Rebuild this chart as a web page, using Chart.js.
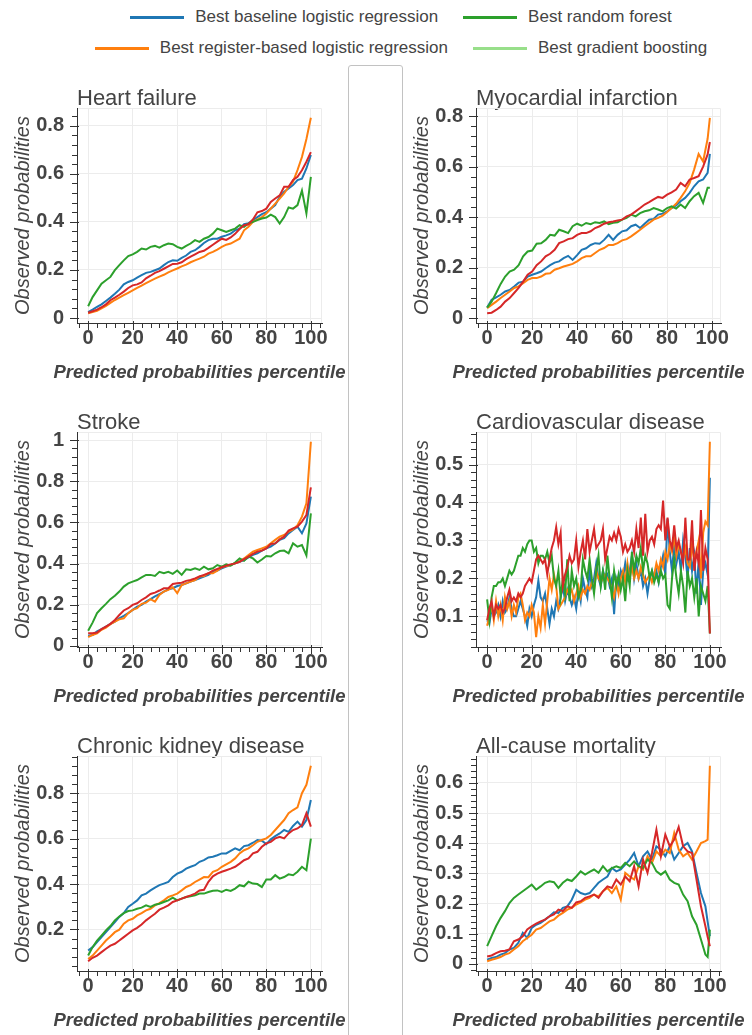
<!DOCTYPE html>
<html>
<head>
<meta charset="utf-8">
<title>Calibration curves</title>
<script src="https://cdn.jsdelivr.net/npm/chart.js@4.4.1/dist/chart.umd.min.js"></script>
<style>
  html, body { margin: 0; padding: 0; background: #fff; }
  body { width: 752px; height: 1035px; overflow: hidden; position: relative;
         font-family: "Liberation Sans", Arial, Helvetica, sans-serif; }
  #divider { position: absolute; left: 348px; top: 65px; width: 55px; height: 1000px;
             box-sizing: border-box; border: 1px solid #c2c2c2; border-radius: 3px; }
  .panel { position: absolute; }
  .lg-row { position: absolute; left: -49px; width: 900px; height: 22px; display: flex;
            justify-content: center; align-items: center; gap: 25px; font-size: 17px; color: #444; }
  .lg-item { display: flex; align-items: center; white-space: nowrap; }
  .lg-item i { display: inline-block; width: 54px; height: 3px; margin-right: 11px; }
</style>
</head>
<body>
<div id="divider"></div>
<div id="legend"></div>
<script>
// ---- series names and colours ----
const SERIES = [
  'Best baseline logistic regression',
  'Best register-based logistic regression',
  'Best random forest',
  'Best gradient boosting'
];
const LINE_COLORS = ['#1f77b4', '#ff7f0e', '#2ca02c', '#d62728'];
const LEGEND_COLORS = ['#1f77b4', '#ff7f0e', '#2ca02c', '#98df8a'];
const LEGEND_ROWS = [[0, 2], [1, 3]];
const DRAW_ORDER = [3, 2, 1, 0];   // gradient boosting drawn on top

// ---- percentiles (x values) ----
const PCT_EVEN = [0,2,4,6,8,10,12,14,16,18,20,22,24,26,28,30,32,34,36,38,40,42,44,46,48,50,52,54,56,58,60,62,64,66,68,70,72,74,76,78,80,82,84,86,88,90,92,94,96,98,100];
const PCT_MI = [0,2,4,6,8,10,12,14,16,18,20,22,24,26,28,30,32,34,36,38,40,42,44,46,48,50,52,54,56,58,60,62,64,66,68,70,72,74,76,78,80,82,84,86,88,90,92,94,96,98,99];
const PCT_ALL = [0,1,2,3,4,5,6,7,8,9,10,11,12,13,14,15,16,17,18,19,20,21,22,23,24,25,26,27,28,29,30,31,32,33,34,35,36,37,38,39,40,41,42,43,44,45,46,47,48,49,50,51,52,53,54,55,56,57,58,59,60,61,62,63,64,65,66,67,68,69,70,71,72,73,74,75,76,77,78,79,80,81,82,83,84,85,86,87,88,89,90,91,92,93,94,95,96,97,98,99,100];
const PCT_MORT = [0,2,4,6,8,10,12,14,16,18,20,22,24,26,28,30,32,34,36,38,40,42,44,46,48,50,52,54,56,58,60,62,64,66,68,70,72,74,76,78,80,82,84,86,88,90,92,94,96,98,99,100];

// ---- tick labels ----
const X_TICKS = [0, 20, 40, 60, 80, 100];
const Y_TICKS_HF = [0, 0.2, 0.4, 0.6, 0.8];
const Y_TICKS_MI = [0, 0.2, 0.4, 0.6, 0.8];
const Y_TICKS_STROKE = [0, 0.2, 0.4, 0.6, 0.8, 1];
const Y_TICKS_CVD = [0.1, 0.2, 0.3, 0.4, 0.5];
const Y_TICKS_CKD = [0.2, 0.4, 0.6, 0.8];
const Y_TICKS_MORT = [0, 0.1, 0.2, 0.3, 0.4, 0.5, 0.6];

// ---- Heart failure ----
const HF_BASELINE = [0.025,0.035,0.046,0.057,0.071,0.085,0.101,0.118,0.14,0.15,0.157,0.168,0.178,0.188,0.192,0.199,0.206,0.22,0.233,0.24,0.238,0.25,0.26,0.275,0.282,0.296,0.312,0.324,0.33,0.33,0.338,0.344,0.351,0.365,0.372,0.39,0.394,0.407,0.42,0.432,0.44,0.455,0.47,0.504,0.525,0.539,0.553,0.574,0.58,0.622,0.678];
const HF_REGISTER = [0.02,0.025,0.03,0.04,0.05,0.063,0.075,0.085,0.095,0.105,0.115,0.125,0.135,0.145,0.155,0.164,0.172,0.18,0.19,0.198,0.206,0.215,0.222,0.232,0.24,0.247,0.255,0.268,0.275,0.285,0.296,0.305,0.31,0.32,0.33,0.365,0.38,0.4,0.41,0.42,0.435,0.455,0.476,0.497,0.518,0.546,0.567,0.615,0.67,0.745,0.833];
const HF_RF = [0.049,0.087,0.115,0.143,0.157,0.171,0.199,0.22,0.24,0.258,0.265,0.275,0.289,0.285,0.296,0.3,0.293,0.303,0.31,0.307,0.296,0.289,0.3,0.31,0.324,0.317,0.33,0.337,0.351,0.372,0.365,0.358,0.365,0.372,0.386,0.379,0.393,0.4,0.407,0.414,0.418,0.43,0.42,0.393,0.42,0.46,0.455,0.47,0.53,0.435,0.587];
const HF_GB = [0.022,0.028,0.035,0.045,0.057,0.074,0.085,0.097,0.11,0.125,0.136,0.14,0.148,0.165,0.176,0.188,0.195,0.205,0.215,0.225,0.226,0.232,0.245,0.255,0.265,0.275,0.28,0.292,0.305,0.318,0.33,0.325,0.335,0.35,0.37,0.386,0.39,0.41,0.44,0.445,0.455,0.483,0.497,0.51,0.546,0.546,0.574,0.587,0.615,0.65,0.69];

// ---- Myocardial infarction ----
const MI_BASELINE = [0.043,0.073,0.083,0.093,0.106,0.112,0.126,0.141,0.145,0.165,0.172,0.178,0.185,0.198,0.21,0.22,0.225,0.238,0.247,0.231,0.25,0.271,0.277,0.29,0.297,0.295,0.31,0.33,0.31,0.33,0.344,0.348,0.364,0.37,0.357,0.374,0.39,0.393,0.41,0.414,0.423,0.436,0.446,0.463,0.476,0.496,0.522,0.542,0.549,0.575,0.65];
const MI_REGISTER = [0.04,0.053,0.066,0.08,0.093,0.106,0.12,0.126,0.139,0.152,0.159,0.159,0.165,0.176,0.178,0.192,0.198,0.205,0.21,0.215,0.225,0.238,0.245,0.245,0.258,0.271,0.278,0.29,0.29,0.297,0.308,0.313,0.324,0.337,0.35,0.364,0.377,0.39,0.397,0.406,0.42,0.436,0.453,0.476,0.502,0.535,0.588,0.65,0.62,0.71,0.793];
const MI_RF = [0.042,0.066,0.1,0.136,0.165,0.185,0.192,0.21,0.245,0.264,0.268,0.295,0.297,0.31,0.33,0.327,0.35,0.344,0.337,0.364,0.374,0.366,0.377,0.372,0.38,0.377,0.383,0.372,0.378,0.38,0.39,0.397,0.41,0.403,0.416,0.423,0.427,0.436,0.43,0.423,0.436,0.443,0.434,0.45,0.436,0.463,0.483,0.496,0.456,0.516,0.516];
const MI_GB = [0.02,0.022,0.033,0.046,0.066,0.08,0.1,0.12,0.145,0.172,0.185,0.21,0.225,0.245,0.255,0.271,0.297,0.304,0.313,0.317,0.33,0.337,0.337,0.344,0.357,0.364,0.374,0.38,0.383,0.387,0.39,0.403,0.41,0.423,0.436,0.45,0.459,0.47,0.48,0.476,0.489,0.498,0.509,0.535,0.522,0.549,0.555,0.562,0.6,0.648,0.697];

// ---- Stroke ----
const STROKE_BASELINE = [0.049,0.053,0.07,0.081,0.094,0.107,0.118,0.134,0.146,0.159,0.175,0.191,0.199,0.215,0.227,0.24,0.252,0.264,0.275,0.28,0.291,0.296,0.304,0.312,0.32,0.328,0.337,0.345,0.361,0.366,0.377,0.385,0.393,0.401,0.409,0.417,0.43,0.442,0.45,0.463,0.474,0.482,0.498,0.515,0.523,0.547,0.563,0.579,0.547,0.595,0.725];
const STROKE_REGISTER = [0.042,0.053,0.061,0.078,0.089,0.105,0.118,0.129,0.134,0.159,0.175,0.183,0.204,0.21,0.227,0.215,0.248,0.264,0.272,0.285,0.256,0.296,0.304,0.312,0.32,0.337,0.34,0.353,0.353,0.366,0.382,0.388,0.393,0.401,0.409,0.425,0.442,0.458,0.466,0.474,0.482,0.498,0.515,0.531,0.539,0.555,0.566,0.587,0.628,0.693,0.992];
const STROKE_RF = [0.074,0.113,0.159,0.183,0.204,0.227,0.244,0.264,0.288,0.304,0.312,0.32,0.333,0.345,0.345,0.34,0.36,0.353,0.36,0.35,0.366,0.345,0.372,0.369,0.377,0.369,0.385,0.372,0.377,0.393,0.385,0.396,0.39,0.405,0.425,0.414,0.434,0.425,0.405,0.42,0.437,0.434,0.45,0.461,0.463,0.45,0.498,0.482,0.49,0.44,0.644];
const STROKE_GB = [0.061,0.061,0.065,0.081,0.094,0.107,0.126,0.15,0.172,0.183,0.199,0.207,0.223,0.236,0.252,0.259,0.269,0.28,0.28,0.301,0.304,0.307,0.316,0.32,0.328,0.337,0.345,0.353,0.366,0.374,0.382,0.39,0.396,0.401,0.409,0.422,0.434,0.447,0.458,0.463,0.474,0.495,0.498,0.518,0.531,0.56,0.571,0.579,0.604,0.636,0.77];

// ---- Cardiovascular disease ----
const CVD_BASELINE = [0.09,0.08,0.12,0.1,0.11,0.13,0.1,0.14,0.11,0.12,0.15,0.12,0.1,0.1,0.12,0.14,0.12,0.1,0.075,0.12,0.1,0.13,0.15,0.194,0.15,0.14,0.16,0.12,0.08,0.12,0.1,0.14,0.12,0.15,0.18,0.14,0.17,0.15,0.13,0.15,0.12,0.17,0.14,0.2,0.17,0.15,0.22,0.18,0.2,0.24,0.2,0.18,0.22,0.2,0.21,0.18,0.2,0.106,0.2,0.18,0.22,0.2,0.24,0.2,0.22,0.26,0.2,0.24,0.2,0.22,0.18,0.2,0.16,0.2,0.22,0.2,0.22,0.19,0.23,0.26,0.21,0.357,0.27,0.22,0.29,0.24,0.27,0.22,0.3,0.26,0.2,0.28,0.22,0.26,0.16,0.25,0.13,0.22,0.24,0.21,0.465];
const CVD_REGISTER = [0.075,0.1,0.13,0.09,0.14,0.1,0.13,0.09,0.15,0.12,0.14,0.1,0.13,0.11,0.15,0.16,0.13,0.09,0.11,0.1,0.13,0.11,0.045,0.1,0.07,0.13,0.08,0.14,0.2,0.17,0.21,0.18,0.12,0.13,0.14,0.15,0.17,0.16,0.17,0.14,0.16,0.18,0.15,0.17,0.16,0.18,0.17,0.19,0.17,0.22,0.2,0.19,0.2,0.21,0.2,0.19,0.17,0.15,0.19,0.16,0.2,0.22,0.19,0.24,0.2,0.23,0.2,0.22,0.2,0.23,0.21,0.19,0.2,0.21,0.19,0.21,0.24,0.22,0.25,0.23,0.27,0.25,0.29,0.27,0.31,0.26,0.29,0.27,0.25,0.28,0.24,0.23,0.29,0.25,0.27,0.3,0.2,0.32,0.35,0.34,0.56];
const CVD_RF = [0.145,0.09,0.15,0.18,0.18,0.19,0.19,0.2,0.18,0.2,0.22,0.21,0.22,0.24,0.26,0.26,0.28,0.27,0.29,0.3,0.3,0.27,0.28,0.24,0.26,0.26,0.25,0.27,0.24,0.26,0.2,0.18,0.22,0.15,0.2,0.16,0.25,0.14,0.22,0.18,0.2,0.15,0.17,0.25,0.22,0.2,0.25,0.2,0.16,0.22,0.26,0.18,0.22,0.17,0.26,0.2,0.15,0.22,0.18,0.21,0.17,0.2,0.14,0.22,0.18,0.27,0.22,0.26,0.24,0.28,0.22,0.26,0.24,0.2,0.22,0.19,0.21,0.19,0.22,0.2,0.21,0.13,0.12,0.2,0.25,0.2,0.16,0.22,0.18,0.11,0.22,0.18,0.2,0.15,0.2,0.1,0.18,0.16,0.14,0.18,0.055];
const CVD_GB = [0.09,0.12,0.14,0.1,0.13,0.12,0.13,0.11,0.12,0.15,0.17,0.14,0.15,0.14,0.16,0.15,0.16,0.18,0.19,0.2,0.19,0.22,0.25,0.26,0.25,0.24,0.25,0.21,0.25,0.28,0.3,0.335,0.29,0.32,0.18,0.21,0.23,0.26,0.24,0.25,0.3,0.23,0.27,0.3,0.25,0.33,0.27,0.3,0.33,0.28,0.29,0.3,0.33,0.25,0.28,0.31,0.3,0.32,0.3,0.33,0.31,0.27,0.29,0.27,0.28,0.3,0.27,0.33,0.28,0.36,0.26,0.37,0.27,0.3,0.31,0.29,0.33,0.34,0.33,0.405,0.3,0.36,0.3,0.28,0.34,0.28,0.3,0.27,0.24,0.36,0.25,0.25,0.353,0.22,0.27,0.24,0.38,0.22,0.28,0.25,0.055];

// ---- Chronic kidney disease ----
const CKD_BASELINE = [0.107,0.122,0.144,0.166,0.188,0.21,0.232,0.255,0.272,0.299,0.313,0.328,0.35,0.358,0.372,0.384,0.395,0.402,0.409,0.431,0.446,0.454,0.468,0.476,0.483,0.498,0.505,0.517,0.52,0.527,0.535,0.535,0.546,0.557,0.549,0.567,0.571,0.582,0.594,0.591,0.576,0.597,0.611,0.623,0.638,0.63,0.656,0.675,0.653,0.682,0.77];
const CKD_REGISTER = [0.07,0.085,0.107,0.129,0.151,0.169,0.188,0.199,0.225,0.24,0.247,0.262,0.272,0.284,0.291,0.306,0.316,0.328,0.343,0.35,0.358,0.372,0.387,0.395,0.409,0.42,0.431,0.43,0.454,0.461,0.476,0.487,0.498,0.513,0.535,0.549,0.557,0.571,0.586,0.594,0.601,0.616,0.638,0.66,0.682,0.712,0.726,0.738,0.8,0.837,0.921];
const CKD_RF = [0.085,0.122,0.151,0.173,0.196,0.215,0.24,0.257,0.272,0.281,0.284,0.291,0.296,0.306,0.299,0.309,0.313,0.321,0.328,0.34,0.328,0.336,0.343,0.346,0.35,0.358,0.358,0.365,0.37,0.372,0.365,0.375,0.37,0.38,0.395,0.39,0.41,0.402,0.4,0.387,0.42,0.42,0.439,0.424,0.431,0.443,0.439,0.454,0.476,0.461,0.6];
const CKD_GB = [0.06,0.075,0.085,0.1,0.115,0.129,0.137,0.151,0.166,0.181,0.196,0.207,0.222,0.24,0.255,0.269,0.287,0.296,0.306,0.321,0.328,0.336,0.343,0.35,0.358,0.372,0.375,0.41,0.434,0.446,0.454,0.461,0.468,0.476,0.49,0.505,0.513,0.535,0.542,0.564,0.579,0.586,0.601,0.608,0.601,0.623,0.638,0.645,0.66,0.712,0.653];

// ---- All-cause mortality ----
const MORT_BASELINE = [0.014,0.02,0.023,0.031,0.036,0.048,0.053,0.07,0.103,0.086,0.119,0.13,0.136,0.147,0.158,0.171,0.169,0.186,0.191,0.213,0.246,0.235,0.23,0.235,0.252,0.269,0.28,0.29,0.318,0.307,0.313,0.329,0.346,0.368,0.324,0.357,0.373,0.346,0.39,0.379,0.357,0.39,0.346,0.368,0.39,0.401,0.373,0.302,0.235,0.191,0.14,0.092];
const MORT_REGISTER = [0.009,0.014,0.018,0.023,0.031,0.036,0.048,0.059,0.075,0.086,0.097,0.114,0.119,0.13,0.141,0.147,0.16,0.169,0.18,0.186,0.197,0.204,0.213,0.219,0.23,0.224,0.241,0.252,0.235,0.257,0.213,0.302,0.29,0.28,0.324,0.313,0.357,0.335,0.373,0.357,0.379,0.368,0.434,0.379,0.357,0.368,0.346,0.373,0.401,0.407,0.412,0.657];
const MORT_RF = [0.059,0.092,0.125,0.152,0.175,0.202,0.219,0.23,0.241,0.252,0.263,0.246,0.257,0.269,0.274,0.271,0.252,0.269,0.28,0.275,0.29,0.307,0.296,0.305,0.313,0.302,0.324,0.307,0.318,0.324,0.318,0.335,0.324,0.34,0.324,0.318,0.346,0.335,0.307,0.296,0.307,0.28,0.269,0.263,0.23,0.208,0.158,0.13,0.081,0.031,0.023,0.114];
const MORT_GB = [0.025,0.028,0.036,0.042,0.044,0.048,0.075,0.081,0.092,0.114,0.125,0.134,0.141,0.147,0.158,0.164,0.18,0.175,0.191,0.186,0.204,0.208,0.219,0.224,0.23,0.219,0.241,0.257,0.252,0.28,0.263,0.29,0.274,0.324,0.257,0.346,0.302,0.368,0.445,0.357,0.429,0.39,0.412,0.454,0.39,0.373,0.368,0.28,0.191,0.125,0.09,0.059];

// ---- panels ----
const PANELS = [
  { title: 'Heart failure',          x: PCT_EVEN, series: [HF_BASELINE, HF_REGISTER, HF_RF, HF_GB],                 yTicks: Y_TICKS_HF },
  { title: 'Myocardial infarction',  x: PCT_MI,   series: [MI_BASELINE, MI_REGISTER, MI_RF, MI_GB],                 yTicks: Y_TICKS_MI },
  { title: 'Stroke',                 x: PCT_EVEN, series: [STROKE_BASELINE, STROKE_REGISTER, STROKE_RF, STROKE_GB], yTicks: Y_TICKS_STROKE },
  { title: 'Cardiovascular disease', x: PCT_ALL,  series: [CVD_BASELINE, CVD_REGISTER, CVD_RF, CVD_GB],             yTicks: Y_TICKS_CVD },
  { title: 'Chronic kidney disease', x: PCT_EVEN, series: [CKD_BASELINE, CKD_REGISTER, CKD_RF, CKD_GB],             yTicks: Y_TICKS_CKD },
  { title: 'All-cause mortality',    x: PCT_MORT, series: [MORT_BASELINE, MORT_REGISTER, MORT_RF, MORT_GB],         yTicks: Y_TICKS_MORT }
];
const X_LABEL = 'Predicted probabilities percentile';
const Y_LABEL = 'Observed probabilities';

// ---- layout (page pixels) ----
const FONT = '"Liberation Sans", Arial, Helvetica, sans-serif';
const TEXT = '#444';
const AXIS = '#333';
const GRID = '#ececec';
const COL_LEFT = [0, 399];
const COL_WIDTH = [350, 353];
const ROW_FRAME_TOP = [108, 432, 756];
const FRAME_W = 245, FRAME_H = 215;
const Y_AXIS_W = 77;       // canvas left edge -> frame left edge
const ABOVE = 40;          // canvas top -> frame top (title lives here)
const X_AXIS_H = 62;       // frame bottom -> end of axis title
const BELOW = 64;
const TITLE_SIZE = 22, TITLE_LH = 0.8;
const X_LABEL_FONT = 'italic bold 18.5px ' + FONT;
const Y_LABEL_FONT = 'italic 20px ' + FONT;
const X_LABEL_DY = 50;     // frame bottom -> centre of x axis label
const Y_LABEL_DX = 54;     // frame left -> centre of y axis label

// ---- legend ----
const legend = document.getElementById('legend');
LEGEND_ROWS.forEach((row, r) => {
  const div = document.createElement('div');
  div.className = 'lg-row';
  div.style.top = (6 + r * 31) + 'px';
  row.forEach(idx => {
    const item = document.createElement('span');
    item.className = 'lg-item';
    const sw = document.createElement('i');
    sw.style.background = LEGEND_COLORS[idx];
    item.appendChild(sw);
    item.appendChild(document.createTextNode(SERIES[idx]));
    div.appendChild(item);
  });
  legend.appendChild(div);
});

// ---- frame outline, major/minor tick marks and axis labels ----
const axisDecor = {
  id: 'axisDecor',
  beforeDatasetsDraw(chart) {
    const { ctx, chartArea: a } = chart;
    ctx.save();
    ctx.strokeStyle = GRID;
    ctx.lineWidth = 1;
    ctx.beginPath();
    ctx.moveTo(a.left + 1, a.top + 0.5);
    ctx.lineTo(a.right - 0.5, a.top + 0.5);
    ctx.lineTo(a.right - 0.5, a.bottom);
    ctx.stroke();
    ctx.restore();
  },
  afterDatasetsDraw(chart, args, opts) {
    const { ctx, chartArea: a, scales } = chart;
    const marks = (scale, minor) => {
      const out = [];
      const k0 = Math.ceil(scale.min / minor - 1e-9), k1 = Math.floor(scale.max / minor + 1e-9);
      for (let k = k0; k <= k1; k++) out.push({ v: k * minor, major: k % 5 === 0 });
      return out;
    };
    ctx.save();
    ctx.strokeStyle = AXIS;
    ctx.lineWidth = 1;
    ctx.beginPath();
    for (const m of marks(scales.x, opts.xMinor)) {
      const px = Math.round(scales.x.getPixelForValue(m.v)) + 0.5;
      ctx.moveTo(px, a.bottom - (m.major ? 2 : 0));
      ctx.lineTo(px, a.bottom + (m.major ? 7 : 5));
    }
    for (const m of marks(scales.y, opts.yMinor)) {
      const py = Math.round(scales.y.getPixelForValue(m.v)) + 0.5;
      ctx.moveTo(a.left + (m.major ? 2 : 0), py);
      ctx.lineTo(a.left - (m.major ? 7 : 5), py);
    }
    ctx.stroke();
    ctx.restore();
  },
  afterDraw(chart, args, opts) {
    const { ctx, chartArea: a } = chart;
    ctx.save();
    ctx.fillStyle = TEXT;
    ctx.textAlign = 'center';
    ctx.textBaseline = 'middle';
    ctx.font = X_LABEL_FONT;
    ctx.fillText(opts.xLabel, (a.left + a.right) / 2, a.bottom + X_LABEL_DY);
    ctx.translate(a.left - Y_LABEL_DX, (a.top + a.bottom) / 2);
    ctx.rotate(-Math.PI / 2);
    ctx.font = Y_LABEL_FONT;
    ctx.fillText(opts.yLabel, 0, 0);
    ctx.restore();
  }
};

const fmt = v => String(Number(v.toFixed(4)));

PANELS.forEach((p, i) => {
  const col = i % 2, row = Math.floor(i / 2);
  const cw = COL_WIDTH[col], ch = ABOVE + FRAME_H + BELOW;
  const canvas = document.createElement('canvas');
  canvas.className = 'panel';
  canvas.width = cw; canvas.height = ch;
  canvas.style.left = COL_LEFT[col] + 'px';
  canvas.style.top = (ROW_FRAME_TOP[row] - ABOVE) + 'px';
  canvas.style.width = cw + 'px'; canvas.style.height = ch + 'px';
  document.body.appendChild(canvas);

  // data ranges padded by 5% of the span on each side
  const all = p.series.flat();
  const yMin = Math.min(...all), yMax = Math.max(...all), yPad = (yMax - yMin) * 0.05;
  const xMin = Math.min(...p.x), xMax = Math.max(...p.x), xPad = (xMax - xMin) * 0.05;
  const yStep = p.yTicks[1] - p.yTicks[0];
  const xStep = X_TICKS[1] - X_TICKS[0];

  new Chart(canvas, {
    type: 'line',
    data: {
      datasets: p.series.map((vals, s) => ({
        label: SERIES[s],
        data: p.x.map((x, k) => ({ x, y: vals[k] })),
        borderColor: LINE_COLORS[s],
        backgroundColor: LINE_COLORS[s],
        borderWidth: 2,
        pointRadius: 0,
        tension: 0,
        fill: false,
        order: DRAW_ORDER[s]
      }))
    },
    options: {
      responsive: false,
      animation: false,
      devicePixelRatio: 1,
      events: [],
      layout: { padding: { top: ABOVE - TITLE_SIZE * TITLE_LH, bottom: BELOW - X_AXIS_H, left: 0, right: cw - Y_AXIS_W - FRAME_W } },
      plugins: {
        legend: { display: false },
        tooltip: { enabled: false },
        title: {
          display: true, text: p.title, align: 'start', fullSize: false,
          color: TEXT, padding: 0,
          font: { family: FONT, size: TITLE_SIZE, weight: 'normal', lineHeight: TITLE_LH }
        },
        axisDecor: { xMinor: xStep / 5, yMinor: yStep / 5, xLabel: X_LABEL, yLabel: Y_LABEL }
      },
      scales: {
        x: {
          type: 'linear', min: xMin - xPad, max: xMax + xPad,
          afterBuildTicks: s => { s.ticks = X_TICKS.map(v => ({ value: v })); },
          afterFit: s => { s.height = X_AXIS_H; },
          grid: { color: GRID, drawTicks: false },
          border: { display: true, color: AXIS, width: 1 },
          ticks: { callback: fmt, color: TEXT, padding: 3, maxRotation: 0, autoSkip: false,
                   font: { family: FONT, size: 20, weight: 'bold' } },
          title: { display: false }
        },
        y: {
          type: 'linear', min: yMin - yPad, max: yMax + yPad,
          afterBuildTicks: s => { s.ticks = p.yTicks.map(v => ({ value: v })); },
          afterFit: s => { s.width = Y_AXIS_W; },
          grid: { color: GRID, drawTicks: false },
          border: { display: true, color: AXIS, width: 1 },
          ticks: { callback: fmt, color: TEXT, padding: 13, autoSkip: false,
                   font: { family: FONT, size: 20, weight: 'bold' } },
          title: { display: false }
        }
      }
    },
    plugins: [axisDecor]
  });
});
</script>
</body>
</html>
